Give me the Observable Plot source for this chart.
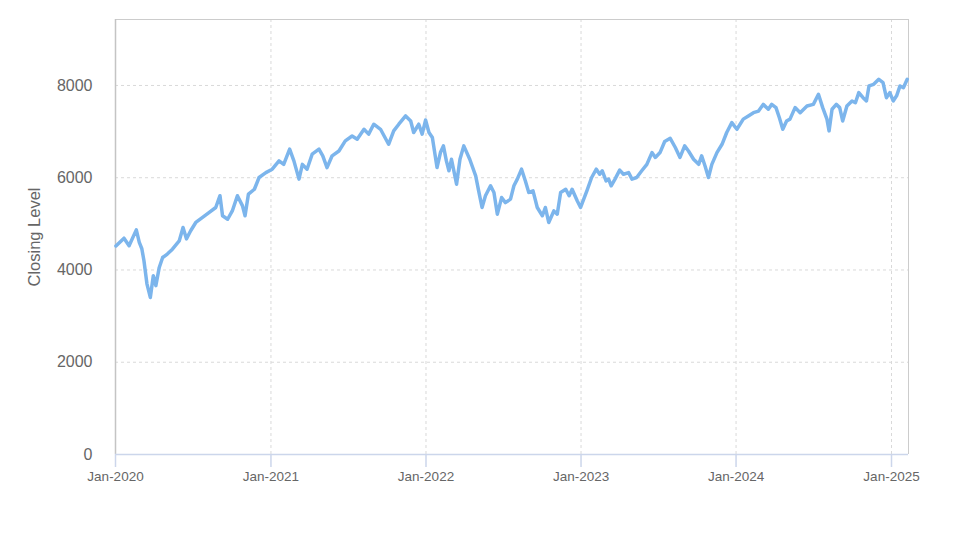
<!DOCTYPE html>
<html>
<head>
<meta charset="utf-8">
<script src="https://cdn.jsdelivr.net/npm/d3@7"></script>
<script src="https://cdn.jsdelivr.net/npm/@observablehq/plot@0.6"></script>
<style>
  html, body { margin: 0; padding: 0; background: #fff; }
</style>
</head>
<body>
<div id="chart"></div>
<script>
// Dates of the closing levels
const dates = [
  "2020-01-02","2020-01-21","2020-02-02","2020-02-19","2020-02-26","2020-03-03","2020-03-08","2020-03-15",
  "2020-03-23","2020-03-30","2020-04-05","2020-04-13","2020-04-21","2020-05-02","2020-05-14","2020-05-30",
  "2020-06-08","2020-06-16","2020-06-26","2020-07-08","2020-07-24","2020-08-08","2020-08-24","2020-09-03",
  "2020-09-09","2020-09-21","2020-10-02","2020-10-14","2020-10-26","2020-11-01","2020-11-09","2020-11-23",
  "2020-12-04","2020-12-20","2021-01-04","2021-01-20","2021-01-31","2021-02-14","2021-02-24","2021-03-08",
  "2021-03-16","2021-03-27","2021-04-08","2021-04-24","2021-05-03","2021-05-13","2021-05-25","2021-06-10",
  "2021-06-25","2021-07-11","2021-07-23","2021-08-08","2021-08-19","2021-08-31","2021-09-16","2021-10-05",
  "2021-10-17","2021-10-29","2021-11-14","2021-11-26","2021-12-03","2021-12-15","2021-12-23","2021-12-31",
  "2022-01-08","2022-01-16","2022-01-27","2022-02-04","2022-02-11","2022-02-18","2022-02-24","2022-03-02",
  "2022-03-14","2022-03-22","2022-03-31","2022-04-14","2022-04-28","2022-05-05","2022-05-13","2022-05-21",
  "2022-06-02","2022-06-10","2022-06-18","2022-06-28","2022-07-07","2022-07-19","2022-07-27","2022-08-04",
  "2022-08-14","2022-08-23","2022-08-31","2022-09-10","2022-09-20","2022-10-02","2022-10-09","2022-10-17",
  "2022-10-29","2022-11-06","2022-11-14","2022-11-26","2022-12-04","2022-12-11","2022-12-23","2022-12-31",
  "2023-01-15","2023-01-26","2023-02-06","2023-02-14","2023-02-20","2023-03-01","2023-03-07","2023-03-13",
  "2023-03-22","2023-04-02","2023-04-11","2023-04-23","2023-05-01","2023-05-12","2023-05-24","2023-06-05",
  "2023-06-17","2023-06-25","2023-07-06","2023-07-17","2023-07-30","2023-08-11","2023-08-22","2023-09-02",
  "2023-09-11","2023-09-23","2023-10-05","2023-10-12","2023-10-20","2023-10-28","2023-11-05","2023-11-17",
  "2023-11-29","2023-12-10","2023-12-22","2024-01-03","2024-01-18","2024-01-30","2024-02-11","2024-02-23",
  "2024-03-05","2024-03-17","2024-03-25","2024-04-04","2024-04-12","2024-04-20","2024-04-29","2024-05-07",
  "2024-05-19","2024-05-31","2024-06-16","2024-07-01","2024-07-13","2024-07-23","2024-08-02","2024-08-07",
  "2024-08-14","2024-08-24","2024-09-01","2024-09-08","2024-09-18","2024-09-30","2024-10-08","2024-10-16",
  "2024-10-26","2024-11-03","2024-11-09","2024-11-20","2024-12-02","2024-12-12","2024-12-20","2024-12-28",
  "2025-01-05","2025-01-13","2025-01-21","2025-01-29","2025-02-07"
];

// Closing levels matching the dates above
const closes = [
  4520,4690,4525,4870,4600,4460,4200,3700,
  3405,3875,3660,4055,4270,4345,4450,4630,
  4920,4675,4850,5030,5140,5245,5355,5610,
  5175,5100,5280,5610,5390,5175,5645,5750,
  6005,6110,6185,6365,6290,6620,6365,5970,
  6290,6185,6510,6620,6475,6220,6475,6580,
  6800,6905,6835,7050,6945,7160,7050,6725,
  7015,7160,7340,7230,6980,7160,6945,7250,
  6980,6870,6220,6545,6690,6365,6150,6400,
  5860,6400,6690,6400,6040,5715,5355,5610,
  5825,5680,5210,5570,5460,5535,5825,5970,
  6185,5930,5680,5715,5355,5175,5355,5030,
  5280,5210,5680,5750,5610,5750,5500,5355,
  5720,6005,6185,6075,6150,5930,5970,5825,
  5970,6165,6075,6110,5970,6005,6150,6290,
  6545,6440,6545,6785,6855,6655,6440,6690,
  6580,6400,6290,6475,6255,6005,6290,6545,
  6725,6980,7195,7050,7270,7340,7410,7445,
  7590,7485,7590,7520,7300,7050,7230,7270,
  7520,7410,7555,7590,7810,7520,7270,7015,
  7485,7590,7520,7230,7555,7665,7625,7845,
  7735,7665,7990,8025,8135,8060,7735,7845,
  7665,7775,7990,7950,8135
];

// Axis ticks
const xTickDates = ["2020-01-01","2021-01-01","2022-01-01","2023-01-01","2024-01-01","2025-01-01"];
const yTicks = [0, 2000, 4000, 6000, 8000];
const xDomain = ["2020-01-01", "2025-02-10"];
const yDomain = [0, 9430];
const yLabel = "Closing Level";

const data = dates.map((d, i) => ({date: new Date(d + "T00:00:00Z"), close: closes[i]}));
const xTicks = xTickDates.map(d => new Date(d + "T00:00:00Z"));
const xDom = xDomain.map(d => new Date(d + "T00:00:00Z"));

const chart = Plot.plot({
  width: 973,
  height: 547,
  marginLeft: 115,
  marginRight: 65,
  marginTop: 19,
  marginBottom: 93,
  style: {fontFamily: "'Liberation Sans', Arial, sans-serif", background: "#fff", overflow: "visible"},
  x: {type: "utc", domain: xDom},
  y: {domain: yDomain},
  marks: [
    Plot.gridY(yTicks.filter(d => d > 0), {stroke: "#d9d9d9", strokeOpacity: 1, strokeDasharray: "3,3"}),
    Plot.gridX(xTicks, {stroke: "#d9d9d9", strokeOpacity: 1, strokeDasharray: "3,3"}),
    Plot.ruleY([yDomain[1]], {stroke: "#cccccc", strokeWidth: 1}),
    Plot.ruleX([xDom[1]], {stroke: "#cccccc", strokeWidth: 1}),
    Plot.ruleX([xDom[0]], {stroke: "#c4c4c4", strokeWidth: 1.5}),
    Plot.axisY(yTicks, {tickSize: 0, tickPadding: 23, fontSize: 16, color: "#666", label: null,
      tickFormat: d => String(d)}),
    Plot.axisX(xTicks, {tickSize: 13, tickPadding: 4, fontSize: 13.5, color: "#666", stroke: "#ccd6eb", strokeWidth: 1.5,
      tickFormat: d3.utcFormat("%b-%Y"), label: null}),
    Plot.ruleY([0], {stroke: "#ccd6eb", strokeWidth: 1.5}),
    Plot.lineY(data, {x: "date", y: "close", stroke: "#7cb5ec", strokeWidth: 3.5, strokeLinejoin: "round"}),
    Plot.text([yLabel], {frameAnchor: "left", textAnchor: "middle", dx: -81, rotate: -90, fontSize: 16.5, fill: "#666"})
  ]
});

document.getElementById("chart").appendChild(chart);
</script>
</body>
</html>
